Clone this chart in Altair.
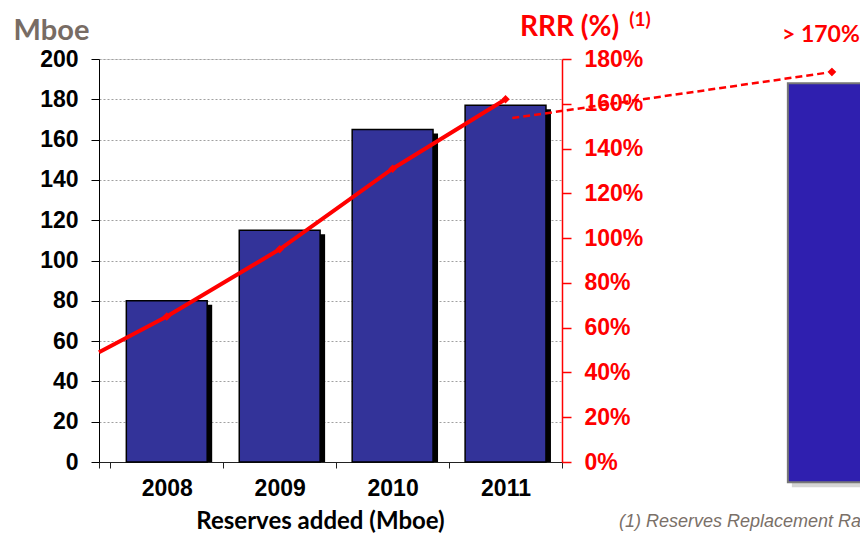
import altair as alt
import pandas as pd

# ---- data ----
years = [2008, 2009, 2010, 2011]
reserves_mboe = [80, 115, 165, 177]
rrr_pct = [65, 95, 131, 162]

# trend line of the RRR, extended to the left edge of the plot
rrr_line_x = [2007.4, 2008, 2009, 2010, 2011]
rrr_line_y = [49, 65, 95, 131, 162]

# outlook (right-hand panel of the slide)
outlook_x = [2011.06, 2013.89]
outlook_rrr = [153.6, 174.2]
outlook_label = "> 170%"
outlook_bar_x = [2013.5, 2014.7]
outlook_bar_mboe = [188, -10]

left_ticks = list(range(0, 201, 20))
right_ticks = list(range(0, 181, 20))
x_ticks = [2007.4, 2007.5, 2008, 2008.5, 2009, 2009.5, 2010, 2010.5, 2011, 2011.5]

bars_df = pd.DataFrame({"year": years, "mboe": reserves_mboe})
pts_df = pd.DataFrame({"year": years, "rrr": rrr_pct})
line_df = pd.DataFrame({"year": rrr_line_x, "rrr": rrr_line_y})
dash_df = pd.DataFrame({"year": outlook_x, "rrr": outlook_rrr})
end_df = pd.DataFrame({"year": [outlook_x[-1]], "rrr": [outlook_rrr[-1]], "label": [outlook_label]})
bigbar_df = pd.DataFrame({"x0": [outlook_bar_x[0]], "x1": [outlook_bar_x[1]],
                          "top": [outlook_bar_mboe[0]], "bottom": [outlook_bar_mboe[1]]})

W, H = 463, 403
RED = "#FF0000"
BAR = "#333399"
NUM_FONT = "Liberation Sans"
TITLE_FONT = "Lato"

xscale = alt.Scale(domain=[2007.4, 2011.5], nice=False, zero=False)
yleft = alt.Scale(domain=[0, 200], nice=False)
yright = alt.Scale(domain=[0, 180], nice=False)

x_axis = alt.Axis(
    values=x_ticks,
    labelExpr="datum.value % 1 === 0 ? format(datum.value, 'd') : ''",
    tickOpacity={"condition": {"test": "datum.value % 1 === 0", "value": 0}, "value": 1},
    grid=False, domainColor="#222", tickColor="#222", tickSize=6,
    labelFont=NUM_FONT, labelFontWeight="bold", labelFontSize=23, labelColor="black",
    labelPadding=9, labelFlush=False, labelOverlap=False,
    title="Reserves added (Mboe)", titleFont=TITLE_FONT, titleFontWeight="bold",
    titleFontSize=24, titleColor="black", titleX=221, titleY=59,
    titleAlign="center", titleBaseline="middle",
)

left_axis = alt.Axis(
    values=left_ticks, grid=True, gridColor="#a0a0a0", gridDash=[2, 2], gridWidth=1,
    domainColor="black", tickColor="black", tickSize=8,
    labelFont=NUM_FONT, labelFontWeight="bold", labelFontSize=23, labelColor="black",
    labelPadding=13,
    title="Mboe", titleFont=TITLE_FONT, titleFontWeight="bold", titleFontSize=29,
    titleColor="#786C64", titleAngle=0, titleX=-48, titleY=-29,
    titleAlign="center", titleBaseline="middle",
)

right_axis = alt.Axis(
    orient="right", values=right_ticks, grid=False,
    domainColor=RED, tickColor=RED, tickSize=9, domainWidth=1.5, tickWidth=1.5,
    labelExpr="datum.value + '%'",
    labelFont=NUM_FONT, labelFontWeight="bold", labelFontSize=23, labelColor=RED,
    labelPadding=13,
    title="RRR (%)", titleFont=TITLE_FONT, titleFontWeight="bold", titleFontSize=28,
    titleColor=RED, titleAngle=0, titleX=7, titleY=-32,
    titleAlign="center", titleBaseline="middle",
)

HALF = 0.358

base_bars = alt.Chart(bars_df).transform_calculate(
    x0=f"datum.year - {HALF}", x1=f"datum.year + {HALF}", base="0"
)

shadow = base_bars.mark_bar(color="black", xOffset=5, x2Offset=5, yOffset=4).encode(
    x=alt.X("x0:Q", scale=xscale, axis=x_axis),
    x2="x1:Q",
    y=alt.Y("mboe:Q", scale=yleft, axis=left_axis),
    y2="base:Q",
)

bars = base_bars.mark_bar(color=BAR, stroke="black", strokeWidth=1.5).encode(
    x=alt.X("x0:Q", scale=xscale, axis=x_axis),
    x2="x1:Q",
    y=alt.Y("mboe:Q", scale=yleft, axis=left_axis),
    y2="base:Q",
)

bigbar_shadow = alt.Chart(bigbar_df).mark_bar(
    color="#888888", opacity=0.35, xOffset=4, x2Offset=4, yOffset=4, y2Offset=5
).encode(
    x=alt.X("x0:Q", scale=xscale, axis=x_axis), x2="x1:Q",
    y=alt.Y("top:Q", scale=yleft, axis=left_axis), y2="bottom:Q",
)

bigbar = alt.Chart(bigbar_df).mark_bar(color="#2F1FAF", stroke="#777777", strokeWidth=2).encode(
    x=alt.X("x0:Q", scale=xscale, axis=x_axis), x2="x1:Q",
    y=alt.Y("top:Q", scale=yleft, axis=left_axis), y2="bottom:Q",
)

left_group = alt.layer(shadow, bars, bigbar_shadow, bigbar)

rrr_line = alt.Chart(line_df).mark_line(color=RED, strokeWidth=4).encode(
    x=alt.X("year:Q", scale=xscale, axis=x_axis),
    y=alt.Y("rrr:Q", scale=yright, axis=right_axis),
)

rrr_pts = alt.Chart(pts_df).mark_point(shape="diamond", filled=True, color=RED, size=70, opacity=1).encode(
    x=alt.X("year:Q", scale=xscale, axis=x_axis),
    y=alt.Y("rrr:Q", scale=yright, axis=right_axis),
)

dash_line = alt.Chart(dash_df).mark_line(color=RED, strokeWidth=2.5, strokeDash=[7, 4]).encode(
    x=alt.X("year:Q", scale=xscale, axis=x_axis),
    y=alt.Y("rrr:Q", scale=yright, axis=right_axis),
)

end_pt = alt.Chart(end_df).mark_point(
    shape="diamond", filled=True, fill=RED, stroke="white", strokeWidth=2.5, size=150, opacity=1
).encode(
    x=alt.X("year:Q", scale=xscale, axis=x_axis),
    y=alt.Y("rrr:Q", scale=yright, axis=right_axis),
)

end_label = alt.Chart(end_df).mark_text(
    font=TITLE_FONT, fontWeight="bold", fontSize=23, color=RED, dx=-11, dy=-37
).encode(
    x=alt.X("year:Q", scale=xscale, axis=x_axis),
    y=alt.Y("rrr:Q", scale=yright, axis=right_axis),
    text="label:N",
)

sup = alt.Chart(pd.DataFrame({"t": ["(1)"]})).mark_text(
    font=TITLE_FONT, fontWeight="bold", fontSize=19, color=RED, align="center", baseline="middle"
).encode(x=alt.value(541), y=alt.value(-39), text="t:N")

footnote = alt.Chart(pd.DataFrame({"t": ["(1) Reserves Replacement Ratio"]})).mark_text(
    font=NUM_FONT, fontStyle="italic", fontSize=18, color="#7A7068", align="left", baseline="middle"
).encode(x=alt.value(520), y=alt.value(463), text="t:N")

right_group = alt.layer(rrr_line, rrr_pts, dash_line, end_pt, end_label, sup, footnote)

chart = alt.layer(left_group, right_group).resolve_scale(y="independent").properties(
    width=W, height=H,
    autosize=alt.AutoSizeParams(type="none"),
    padding={"left": 91, "top": 51, "right": 298, "bottom": 72},
).configure_view(strokeWidth=0).configure(background="white")

chart.save("out.html", embed_options={"renderer": "svg", "actions": False})
